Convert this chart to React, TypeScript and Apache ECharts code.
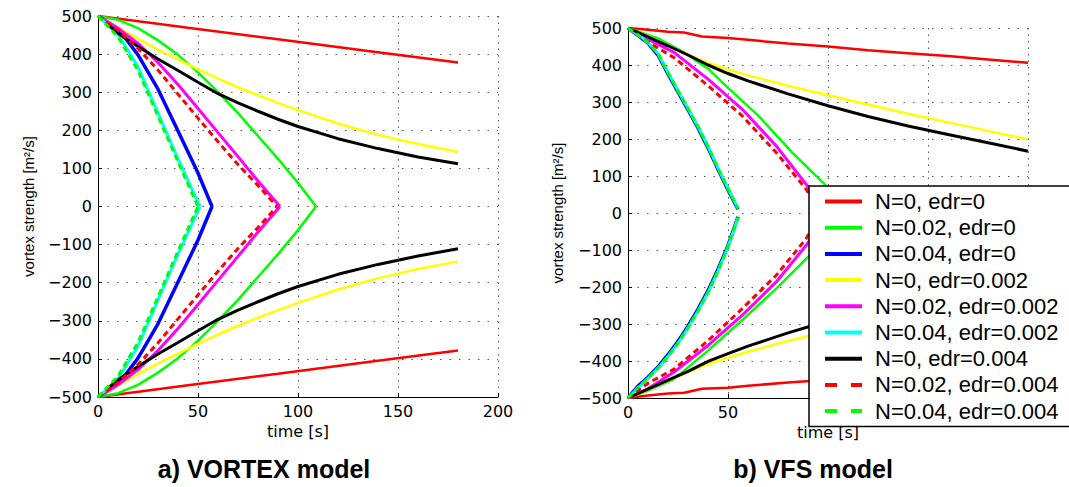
import React, { useEffect, useRef } from 'react';
import * as echarts from 'echarts';

// ---------- legend / styling per curve ----------
const NAMES = [
  'N=0, edr=0',
  'N=0.02, edr=0',
  'N=0.04, edr=0',
  'N=0, edr=0.002',
  'N=0.02, edr=0.002',
  'N=0.04, edr=0.002',
  'N=0, edr=0.004',
  'N=0.02, edr=0.004',
  'N=0.04, edr=0.004',
];
const COLORS = ['#ff0000', '#00ff00', '#0000ff', '#ffff00', '#ff00ff', '#00ffff', '#000000', '#ff0000', '#00ff00'];
const DASHED = [false, false, false, false, false, false, false, true, true];
const WIDTHS = [2.5, 2.5, 3.5, 2.5, 3, 3, 3, 3, 3];

// ---------- axes ----------
const X_MIN = 0, X_MAX = 200, X_STEP = 50;
const Y_MIN = -500, Y_MAX = 500, Y_STEP = 100;
const X_NAME = 'time [s]';
const Y_NAME = 'vortex strength [m²/s]';
const TITLES = ['a) VORTEX model', 'b) VFS model'];
// x tick labels of panel b that are not hidden under the legend
const B_VISIBLE_X_LABEL_MAX = 50;

// ---------- a) VORTEX model ----------
const a0_t = [0, 45, 90, 135, 180];
const a0_up = [500, 469, 439, 408, 378];
const a0_dn = [-500, -469, -439, -408, -378];

const a1_t = [0, 10, 20, 30, 40, 50, 60, 70, 80, 90, 100, 109];
const a1_up = [500, 490, 468, 436, 398, 352, 300, 245, 185, 125, 62, 0];
const a1_dn = [-500, -490, -468, -436, -398, -352, -300, -245, -185, -125, -62, 0];

const a2_t = [0, 10, 20, 30, 40, 50, 57];
const a2_up = [500, 468, 398, 308, 198, 88, 0];
const a2_dn = [-500, -468, -398, -308, -198, -88, 0];

const a3_t = [0, 10, 20, 30, 40, 50, 60, 70, 80, 90, 100, 120, 140, 160, 180];
const a3_up = [500, 470, 440, 412, 386, 360, 336, 313, 292, 272, 253, 218, 188, 164, 143];
const a3_dn = [-500, -470, -440, -412, -386, -360, -336, -313, -292, -272, -253, -218, -188, -164, -144];

const a4_t = [0, 10, 20, 30, 40, 50, 60, 70, 80, 91];
const a4_up = [500, 468, 428, 378, 320, 257, 194, 131, 67, 0];
const a4_dn = [-500, -468, -428, -378, -320, -257, -194, -131, -67, 0];

const a5_t = [0, 10, 20, 30, 40, 51];
const a5_up = [500, 452, 367, 245, 125, 0];
const a5_dn = [-500, -452, -367, -245, -125, 0];

const a6_t = [4, 10, 20, 30, 40, 50, 60, 70, 80, 90, 100, 120, 140, 160, 180];
const a6_up = [482, 455, 420, 387, 357, 326, 296, 272, 250, 229, 210, 178, 152, 130, 112];
const a6_dn = [-482, -455, -420, -387, -357, -326, -296, -272, -250, -229, -210, -178, -152, -130, -111];

const a7_t = [0, 10, 20, 30, 40, 50, 60, 70, 80, 89.5];
const a7_up = [500, 462, 415, 358, 295, 232, 170, 110, 55, 0];
const a7_dn = [-500, -462, -415, -358, -295, -232, -170, -110, -55, 0];

const a8_t = [0, 10, 20, 30, 40, 50];
const a8_up = [500, 445, 357, 237, 117, 0];
const a8_dn = [-500, -445, -357, -237, -117, 0];

// ---------- b) VFS model ----------
const b0_t = [0, 10, 20, 28, 37, 50, 60, 80, 100, 120, 140, 160, 180, 200];
const b0_up = [500, 495, 490, 488, 477, 473, 468, 458, 450, 440, 432, 424, 415, 406];
const b0_dn = [-500, -493, -488, -486, -475, -472, -467, -458, -451, -442, -433, -425, -416, -407];

const b1_t_up = [0, 15, 28, 40, 50, 65, 82, 97.5, 112];
const b1_up = [500, 472, 434, 390, 338, 264, 164, 82, 0];
const b1_t_dn = [0, 10, 23, 40, 57, 74, 90.7, 112];
const b1_dn = [-500, -480, -449, -372, -290, -205, -115, 0];

const b2_t = [0, 5, 10, 15, 20, 25, 30, 35, 40, 45, 50, 55];
const b2_up = [500, 480, 459, 427, 376, 327, 279, 230, 176, 118, 62, 10];
const b2_dn = [-500, -468, -444, -416, -383, -347, -306, -260, -210, -152, -88, -10];

const b3_t = [0, 10, 20, 30, 40, 50, 60, 80, 100, 120, 140, 160, 180, 200];
const b3_up = [500, 478, 452, 428, 406, 388, 372, 344, 318, 293, 268, 245, 222, 199];
const b3_dn = [-500, -478, -453, -430, -408, -391, -375, -346, -320, -294, -269, -246, -223, -200];

const b4_t = [0, 10, 23, 40, 57, 74, 89, 100];
const b4_up = [500, 470, 434, 362, 281, 182, 78, 0];
const b4_dn = [-500, -475, -430, -358, -277, -187, -88, 0];

const b5_t = [0, 5, 10, 15, 20, 25, 30, 35, 40, 45, 50, 55];
const b5_up = [500, 482, 462, 431, 380, 331, 283, 234, 180, 122, 66, 13];
const b5_dn = [-500, -473, -447, -420, -388, -352, -311, -265, -215, -157, -92, -13];

const b6_t = [0, 10, 20, 30, 40, 50, 60, 80, 100, 120, 140, 160, 180, 200];
const b6_up = [500, 476, 452, 427, 400, 377, 357, 322, 290, 261, 235, 212, 190, 167];
const b6_dn = [-500, -476, -452, -428, -401, -380, -360, -324, -292, -262, -236, -213, -191, -168];

const b7_t = [0, 10, 23, 40, 57, 74, 89, 96];
const b7_up = [500, 462, 420, 344, 263, 164, 65, 0];
const b7_dn = [-500, -460, -422, -345, -259, -169, -70, 0];

const b8_t = [0, 5, 10, 15, 20, 25, 30, 35, 40, 45, 50, 55];
const b8_up = [500, 481, 460, 430, 379, 330, 282, 233, 179, 121, 65, 12];
const b8_dn = [-500, -471, -447, -419, -387, -351, -310, -264, -214, -156, -91, -12];

// branches per panel: [curveIndex, times, values]
const PANEL_A: [number, number[], number[]][] = [
  [0, a0_t, a0_up], [0, a0_t, a0_dn],
  [1, a1_t, a1_up], [1, a1_t, a1_dn],
  [2, a2_t, a2_up], [2, a2_t, a2_dn],
  [3, a3_t, a3_up], [3, a3_t, a3_dn],
  [4, a4_t, a4_up], [4, a4_t, a4_dn],
  [5, a5_t, a5_up], [5, a5_t, a5_dn],
  [6, a6_t, a6_up], [6, a6_t, a6_dn],
  [7, a7_t, a7_up], [7, a7_t, a7_dn],
  [8, a8_t, a8_up], [8, a8_t, a8_dn],
];
const PANEL_B: [number, number[], number[]][] = [
  [0, b0_t, b0_up], [0, b0_t, b0_dn],
  [1, b1_t_up, b1_up], [1, b1_t_dn, b1_dn],
  [2, b2_t, b2_up], [2, b2_t, b2_dn],
  [3, b3_t, b3_up], [3, b3_t, b3_dn],
  [4, b4_t, b4_up], [4, b4_t, b4_dn],
  [5, b5_t, b5_up], [5, b5_t, b5_dn],
  [6, b6_t, b6_up], [6, b6_t, b6_dn],
  [7, b7_t, b7_up], [7, b7_t, b7_dn],
  [8, b8_t, b8_up], [8, b8_t, b8_dn],
];

const TICK_FONT = 'DejaVu Sans';
const TEXT_FONT = 'Liberation Sans';

function makeSeries(panel: number, branches: [number, number[], number[]][]) {
  return branches.map(([k, t, v]) => ({
    type: 'line',
    name: NAMES[k],
    xAxisIndex: panel,
    yAxisIndex: panel,
    data: t.map((x, i) => [x, v[i]]),
    symbol: 'none',
    showSymbol: false,
    silent: true,
    smooth: false,
    lineStyle: {
      color: COLORS[k],
      width: WIDTHS[k],
      type: DASHED[k] ? [6, 4] : 'solid',
      cap: 'butt',
    },
    itemStyle: { color: COLORS[k] },
  }));
}

function xAxis(gridIndex: number, maxLabel: number) {
  return {
    gridIndex,
    type: 'value',
    min: X_MIN,
    max: X_MAX,
    interval: X_STEP,
    name: X_NAME,
    nameLocation: 'middle',
    nameGap: 17,
    nameTextStyle: { fontFamily: TICK_FONT, fontSize: 16, color: '#000' },
    axisLine: { show: true, onZero: false, lineStyle: { color: '#000', width: 1 } },
    axisTick: { show: true, inside: true, length: 4, lineStyle: { color: '#000' } },
    axisLabel: {
      color: '#000',
      fontFamily: TICK_FONT,
      fontSize: 16,
      margin: 6,
      formatter: (v: number) => (v <= maxLabel ? String(v) : ''),
    },
    splitLine: { show: true, lineStyle: { color: '#555', type: [1.5, 5], width: 1 } },
  };
}

function yAxis(gridIndex: number, nameGap: number) {
  return {
    gridIndex,
    type: 'value',
    min: Y_MIN,
    max: Y_MAX,
    interval: Y_STEP,
    name: Y_NAME,
    nameLocation: 'middle',
    nameGap,
    nameTextStyle: { fontFamily: TEXT_FONT, fontSize: 15, color: '#000' },
    axisLine: { show: true, onZero: false, lineStyle: { color: '#000', width: 1 } },
    axisTick: { show: true, inside: true, length: 4, lineStyle: { color: '#000' } },
    axisLabel: {
      color: '#000',
      fontFamily: TICK_FONT,
      fontSize: 16,
      margin: 6,
      formatter: (v: number) => (v < 0 ? '\u2212' + Math.abs(v) : String(v)),
    },
    splitLine: { show: true, lineStyle: { color: '#555', type: [1.5, 8], width: 1 } },
  };
}

export default function App() {
  const ref = useRef<HTMLDivElement>(null);

  useEffect(() => {
    if (!ref.current) return;
    const chart = echarts.init(ref.current, null, { renderer: 'svg' });
    const option: any = {
      animation: false,
      backgroundColor: '#ffffff',
      grid: [
        { left: 98, top: 16, width: 400, height: 381 },
        { left: 628, top: 28, width: 400, height: 370 },
      ],
      xAxis: [xAxis(0, X_MAX), xAxis(1, B_VISIBLE_X_LABEL_MAX)],
      yAxis: [yAxis(0, 62), yAxis(1, 63)],
      legend: {
        orient: 'vertical',
        left: 809,
        top: 186,
        z: 20,
        selectedMode: false,
        itemWidth: 37,
        itemHeight: 14,
        itemGap: 4.2,
        padding: [4.5, 40, 4.5, 14],
        backgroundColor: '#ffffff',
        borderColor: '#000000',
        borderWidth: 1.5,
        borderRadius: 0,
        itemStyle: { opacity: 0, borderWidth: 0 },
        lineStyle: { width: 4 },
        textStyle: {
          fontFamily: TEXT_FONT,
          fontSize: 22,
          lineHeight: 22,
          color: '#000',
          padding: [0, 0, 0, 8],
        },
        data: NAMES.map((n, i) => ({
          name: n,
          itemStyle: { opacity: 0, borderWidth: 0 },
          lineStyle: DASHED[i] ? { type: [12, 14], width: 4 } : { width: 4 },
        })),
      },
      graphic: TITLES.map((t, i) => ({
        type: 'text',
        x: i === 0 ? 264 : 813,
        y: 469,
        style: {
          text: t,
          font: `bold 25px "${TEXT_FONT}"`,
          fill: '#000',
          textAlign: 'center',
          textVerticalAlign: 'middle',
          align: 'center',
          verticalAlign: 'middle',
        },
      })),
      series: [...makeSeries(0, PANEL_A), ...makeSeries(1, PANEL_B)],
    };
    chart.setOption(option);
    return () => chart.dispose();
  }, []);

  return (
    <div
      ref={ref}
      style={{ position: 'absolute', left: 0, top: 0, width: 1069, height: 487, background: '#fff' }}
    />
  );
}
